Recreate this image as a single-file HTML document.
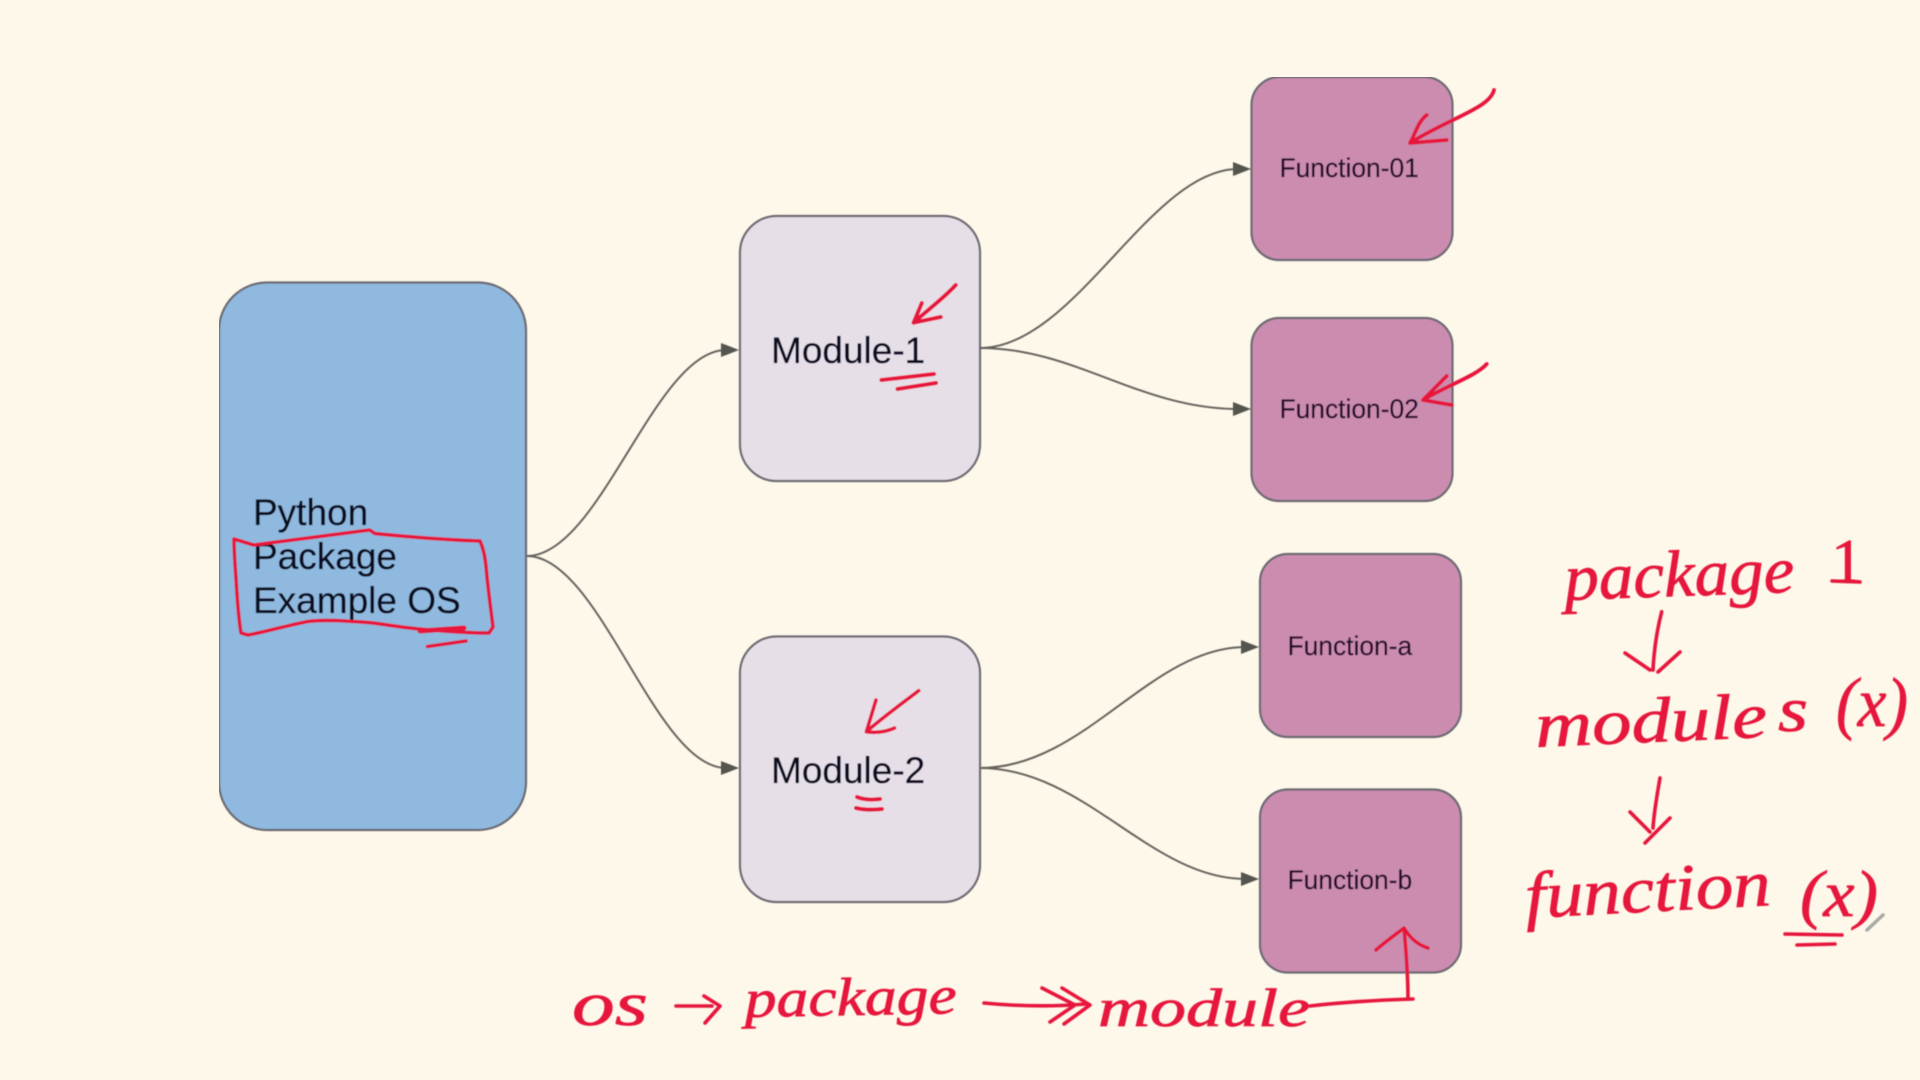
<!DOCTYPE html>
<html lang="en">
<head>
<meta charset="utf-8">
<title>Python package diagram</title>
<style>
html,body{margin:0;padding:0;background:#fef8ea;width:1920px;height:1080px;overflow:hidden}
svg{display:block}
.sans{font-family:"Liberation Sans",Arial,sans-serif;fill:#0b0f22;stroke:#0b0f22;stroke-width:.35}
.fn{font-family:"Liberation Sans",Arial,sans-serif;fill:#28092c;stroke:#28092c;stroke-width:.25;font-size:26.400px}
.hw{font-family:"Liberation Serif",serif;font-style:italic;fill:#e6183c;stroke:#e6183c;stroke-width:.7}
.box{stroke:#6c6a72;stroke-width:2.2}
.c{fill:none;stroke:#66645f;stroke-width:2}
.r{fill:none;stroke:#e6183c;stroke-width:3.600;stroke-linecap:round;stroke-linejoin:round}
</style>
</head>
<body>
<svg width="1920" height="1080" viewBox="0 0 1920 1080" xmlns="http://www.w3.org/2000/svg">
<defs><filter id="soft" x="0" y="0" width="100%" height="100%"><feGaussianBlur stdDeviation="0.55"/></filter></defs>
<rect width="1920" height="1080" fill="#fef8ea"/>
<g filter="url(#soft)">

<!-- nodes -->
<rect class="box" x="219" y="282.500" width="307" height="547.500" rx="48" fill="#8fb9df"/>
<rect class="box" x="740" y="216" width="240" height="265" rx="37" fill="#e7dfe8"/>
<rect class="box" x="740" y="636.500" width="240" height="265.500" rx="37" fill="#e7dfe8"/>
<rect class="box" x="1251.500" y="77" width="201" height="183" rx="28" fill="#cb8cb0"/>
<rect class="box" x="1251.500" y="318" width="201" height="183" rx="28" fill="#cb8cb0"/>
<rect class="box" x="1260" y="554" width="201" height="183" rx="28" fill="#cb8cb0"/>
<rect class="box" x="1260" y="789.500" width="201" height="183" rx="28" fill="#cb8cb0"/>

<!-- connectors -->
<path class="c" d="M527 556C600 556 655 350 726 350"/>
<path class="c" d="M527 556C600 556 655 768 726 768"/>
<path class="c" d="M980 348C1075 348 1150 169 1238 169"/>
<path class="c" d="M980 348C1075 348 1140 409 1238 409"/>
<path class="c" d="M980 768C1085 768 1150 647 1246 647"/>
<path class="c" d="M980 768C1085 768 1150 879 1246 879"/>
<g fill="#55544f">
<path d="M739 350L721 343V357Z"/>
<path d="M739 768L721 761V775Z"/>
<path d="M1251 169L1233 162V176Z"/>
<path d="M1251 409L1233 402V416Z"/>
<path d="M1259 647L1241 640V654Z"/>
<path d="M1259 879L1241 872V886Z"/>
</g>

<!-- node labels -->
<g class="sans" font-size="37">
<text x="253" y="525">Python</text>
<text x="253" y="569">Package</text>
<text x="253" y="613">Example OS</text>
</g>
<text class="sans" font-size="37" x="771" y="363">Module-1</text>
<text class="sans" font-size="37" x="771" y="783">Module-2</text>
<text class="fn" x="1279.500" y="177">Function-01</text>
<text class="fn" x="1279.500" y="418">Function-02</text>
<text class="fn" x="1287.500" y="655">Function-a</text>
<text class="fn" x="1287.500" y="889">Function-b</text>

<!-- red annotations: marks -->
<path class="r" d="M234 539L253.600 545C290 540 330 535 369.600 530L375 533.600C410 537 445 540 480 541C484 550 485 558 486 566C488 590 491 610 493 627L489 633C465 633 440 631 420 629C395 627 375 622 353.600 621.600C335 620 320 620 307 621.600C285 626 265 632 248 635L241 633C238 615 237 595 236 578C235 565 234 550 234 539Z"/>
<path class="r" d="M420 631L464 628" style="stroke-width:5"/>
<path class="r" d="M427.500 646.500L466 641"/>

<path class="r" d="M955.700 285C945 297 930 308 913.600 322.700M921.800 303L913.600 322.700L940.700 317" style="stroke-width:4"/>
<path class="r" d="M881.400 380L934 374M897.500 389L936 383" style="stroke-width:4"/>

<path class="r" d="M918.700 690.700C900 705 882 718 866.400 731.700M876 700L866.400 731.700C876 733 886 732 894.500 728"/>
<path class="r" d="M857 797C864 800 872 800 880 799M856 808C864 810 873 810 882 809" style="stroke-width:4"/>

<path class="r" d="M1494 90C1490 108 1450 118 1410 143M1426.700 115C1418 122 1416 132 1410 143L1446.700 140" style="stroke-width:3.800"/>
<path class="r" d="M1486.700 364C1476 376 1450 384 1423 400M1446.700 376L1423 400L1451.700 405" style="stroke-width:3.800"/>

<!-- bottom annotation -->
<text class="hw" x="572" y="1025" font-size="62" textLength="76" lengthAdjust="spacingAndGlyphs">os</text>
<path class="r" d="M676 1006L712 1006M704 996L720 1006L705 1023"/>
<text class="hw" x="745" y="1017" font-size="54" textLength="212" lengthAdjust="spacingAndGlyphs" transform="rotate(-1 745 1017)">package</text>
<path class="r" d="M984 1003C1015 1006 1050 1007 1086 1004M1042 988L1075 1005L1050 1022M1062 988L1090 1005L1064 1024"/>
<text class="hw" x="1098" y="1026" font-size="54" textLength="212" lengthAdjust="spacingAndGlyphs">module</text>
<path class="r" d="M1310 1006C1345 1002 1380 1000 1413 999M1408 999C1408 975 1406 950 1404 928M1376 950C1385 942 1395 935 1404 928C1410 938 1418 945 1428 948"/>

<!-- right annotation -->
<text class="hw" x="1565" y="600" font-size="66" textLength="230" lengthAdjust="spacingAndGlyphs" transform="rotate(-2 1565 600)">package</text>
<text class="hw" x="1831" y="582" font-size="62" textLength="32" lengthAdjust="spacingAndGlyphs" style="font-style:normal">1</text>
<path class="r" d="M1832 581L1860 582"/>
<path class="r" d="M1661.700 611.700C1657 630 1654 650 1653 670M1625 653L1650 670M1680 652L1658 672"/>
<text class="hw" x="1536" y="747" font-size="64" textLength="232" lengthAdjust="spacingAndGlyphs" transform="rotate(-2.500 1536 747)">module</text>
<text class="hw" x="1778" y="731" font-size="64" textLength="30" lengthAdjust="spacingAndGlyphs">s</text>
<text class="hw" x="1836" y="726" font-size="70" textLength="72" lengthAdjust="spacingAndGlyphs">(x)</text>
<path class="r" d="M1660 778C1657 795 1654 812 1653 828M1630 812L1650 832M1670 818L1645 843"/>
<text class="hw" x="1526" y="918" font-size="66" textLength="246" lengthAdjust="spacingAndGlyphs" transform="rotate(-3 1526 918)">function</text>
<text class="hw" x="1800" y="916" font-size="66" textLength="78" lengthAdjust="spacingAndGlyphs">(x)</text>
<path class="r" d="M1785 934L1842 935M1797 945L1835 944"/>
<path d="M1867 930L1883 915" stroke="#a9a9a5" stroke-width="3.500" stroke-linecap="round" fill="none"/>
</g>
</svg>
</body>
</html>
